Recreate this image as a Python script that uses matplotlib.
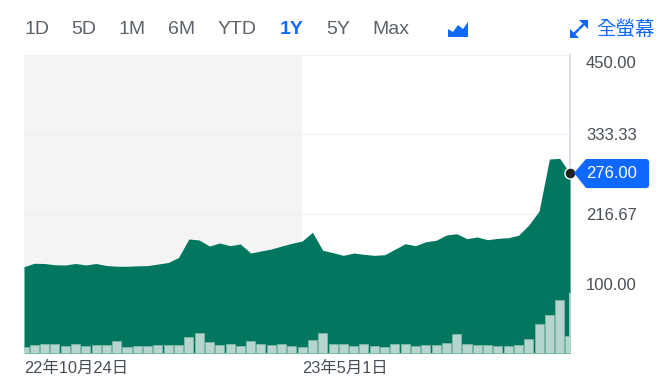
import matplotlib
matplotlib.use("Agg")
import matplotlib.pyplot as plt
from matplotlib.patches import Polygon
from matplotlib.lines import Line2D
from matplotlib.transforms import ScaledTranslation, Affine2D

plt.rcParams['font.family'] = ['Liberation Sans', 'Noto Sans CJK TC', 'DejaVu Sans']

W, H = 670, 385

price = [138.7, 143.7, 143.4, 141.5, 141.2, 143.4, 141.2, 143.4, 140.4, 139.4,
         139.3, 140.0, 140.3, 142.6, 144.9, 152.2, 179.4, 178.0, 169.1, 173.5,
         169.6, 172.1, 158.8, 161.8, 164.7, 169.1, 173.1, 176.5, 189.3, 162.8,
         159.3, 155.4, 158.8, 156.9, 155.4, 156.3, 164.3, 172.5, 169.6, 175.4,
         177.5, 185.3, 187.2, 179.9, 182.4, 178.4, 180.4, 181.3, 184.9, 200.0,
         220.6, 297.0, 298.0, 276.0]
volume = [5.7, 8.0, 8.7, 8.7, 7.0, 9.0, 7.0, 7.7, 8.3, 11.7,
          6.3, 7.0, 7.0, 8.0, 8.0, 8.0, 15.7, 19.7, 10.7, 8.0,
          9.3, 6.7, 12.3, 9.0, 8.0, 8.7, 7.3, 6.0, 13.0, 19.7,
          9.3, 9.3, 7.3, 8.7, 7.0, 6.0, 9.3, 9.0, 7.0, 7.7,
          7.7, 10.0, 18.7, 8.7, 7.7, 7.7, 7.3, 7.0, 7.7, 13.7,
          29.3, 37.7, 53.3, 17.0]
y_ticks = [450.0, 333.33, 216.67, 100.0]
y_offsets = [-7, 0, 0, 9]
date_ticks = [0, 27]
date_labels = ['22年10月24日', '23年5月1日']
ranges = ['1D', '5D', '1M', '6M', 'YTD', '1Y', '5Y', 'Max']
range_x = [25, 71, 119, 168, 218, 280, 326, 372]
last_label = '276.00'
fullscreen = '全螢幕'

GREEN = '#01775f'
BLUE = '#0f69ff'
TEXT = '#5b636a'
LABEL = '#464e56'
GRID = '#f0f0f2'

fig = plt.figure(figsize=(W / 100, H / 100), dpi=100, facecolor='white')
px = Affine2D().scale(1 / W, -1 / H).translate(0, 1) + fig.transFigure

ax = fig.add_axes([24 / W, 1 - 353 / H, 546 / W, 298 / H])
ax.set_facecolor('white')
x = list(range(len(price)))
ax.set_xlim(0, len(price) - 1)
ax.set_ylim(11.8, 450)
for s in ax.spines.values():
    s.set_visible(False)

ax.axvspan(0, date_ticks[1], color='#f4f4f4', lw=0, zorder=0)
ax.set_yticks(y_ticks)
ax.grid(axis='y', color=GRID, lw=1, zorder=1)
ax.grid(axis='x', visible=False)
ax.axvline(x[-1], color='#dcdce6', lw=1.5, zorder=1, clip_on=False)
ax.fill_between(x, price, 11.8, color=GREEN, lw=0, zorder=2)
ax.vlines(x[-1], 11.8, y_ticks[-1], color='#c4dcd6', lw=1.2, zorder=3, clip_on=False)

ax2 = ax.twinx()
ax2.set_ylim(0, 298)
ax2.axis('off')
ax2.bar(x, volume, width=0.88, facecolor='#b5d5ce', edgecolor='#7fb8aa', lw=0.6, zorder=3)

ax.yaxis.tick_right()
ax.tick_params(axis='y', length=0, pad=11.5, labelsize=12, labelcolor=LABEL)
ax.set_yticklabels([f'{v:.2f}' for v in y_ticks])
for lab, off in zip(ax.get_yticklabels(), y_offsets):
    lab.set_transform(lab.get_transform() + ScaledTranslation(0, off / 100, fig.dpi_scale_trans))

ax.set_xticks(date_ticks)
ax.set_xticklabels(date_labels, ha='left', fontsize=11.8, color=LABEL)
ax.tick_params(axis='x', length=0, pad=5.5)

ax.set_zorder(ax2.get_zorder() - 1)
ax2.patch.set_visible(False)

# last-value marker and callout
mark_ax_y = (price[-1] - 11.8) / (450 - 11.8) * 298
ax2.plot([x[-1]], [mark_ax_y], 'o', ms=8, mfc='#222222', mec='white', mew=1, clip_on=False, zorder=6)

shadow = Polygon([(575, 174), (587, 160), (650, 160), (650, 189), (587, 189)],
                 closed=True, transform=px, fc='#d4d8e0', ec='none', alpha=0.4, zorder=4)
call = Polygon([(574, 173), (586, 159), (647, 159), (649, 161), (649, 186), (647, 188), (586, 188)],
               closed=True, transform=px, fc=BLUE, ec='none', zorder=5)
fig.add_artist(shadow)
fig.add_artist(call)
fig.text(586 / W, 1 - 173 / H, last_label, color='white', fontsize=12, ha='left', va='center', zorder=6)

# toolbar
for lab, xp in zip(ranges, range_x):
    active = lab == '1Y'
    fig.text(xp / W, 1 - 29 / H, lab, fontsize=14, ha='left', va='center',
             color=BLUE if active else TEXT, fontweight='bold' if active else 'normal')

fig.add_artist(Polygon([(448, 29), (453, 32), (458, 25), (463, 29), (468, 22), (468, 37), (448, 37)],
                       closed=True, transform=px, fc=BLUE, ec='none'))
fig.add_artist(Polygon([(579, 20), (588, 20), (588, 29)], closed=True, transform=px, fc=BLUE, ec='none'))
fig.add_artist(Polygon([(570, 29), (570, 38), (579, 38)], closed=True, transform=px, fc=BLUE, ec='none'))
fig.add_artist(Line2D([580, 583.5], [28, 24.5], transform=px, color=BLUE, lw=1.8))
fig.add_artist(Line2D([574.5, 578], [33.5, 30], transform=px, color=BLUE, lw=1.8))
fig.text(596 / W, 1 - 30 / H, fullscreen, fontsize=14, ha='left', va='center', color=BLUE)

fig.savefig('out.png', dpi=100, facecolor='white')
